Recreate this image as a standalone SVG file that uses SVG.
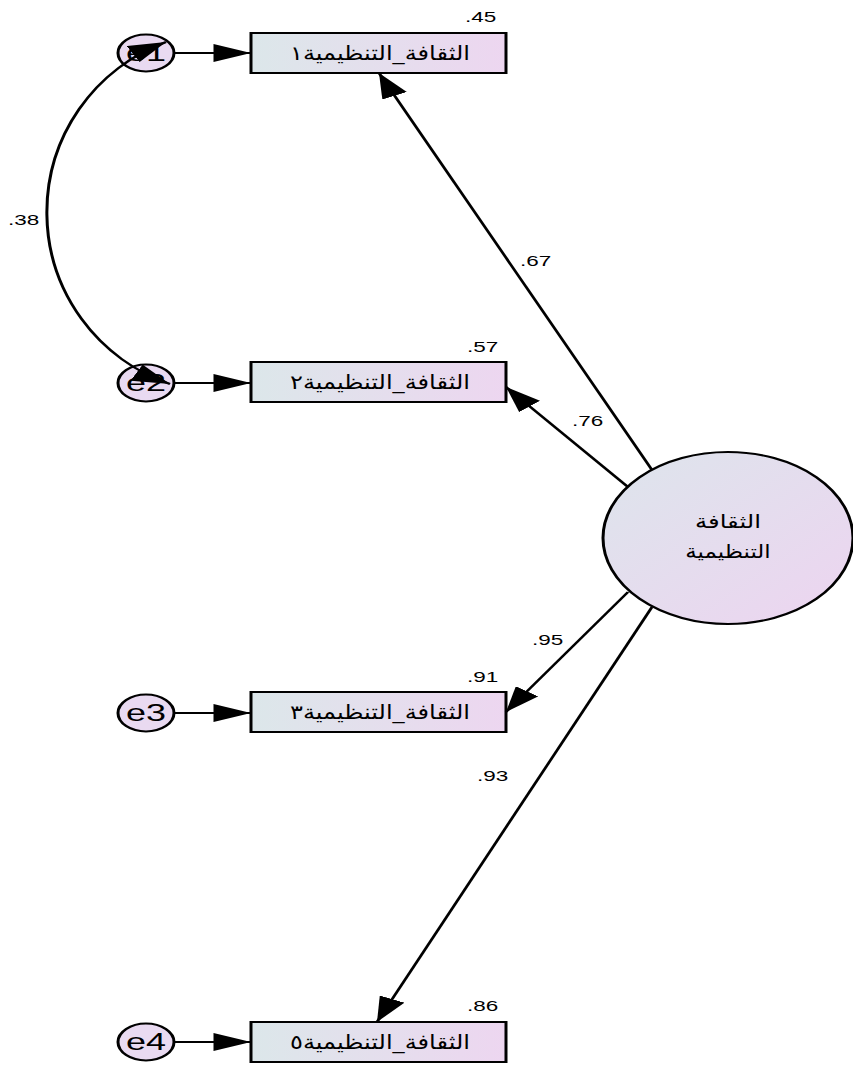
<svg xmlns="http://www.w3.org/2000/svg" width="853" height="1068" viewBox="0 0 853 1068">
<style>
.box{stroke:#000;stroke-width:2;fill:url(#gBox)}
.err{stroke:#000;stroke-width:2;fill:#e9daf1}
.lat{stroke:#000;stroke-width:2;fill:url(#gLat)}
.ln{stroke:#000;stroke-width:2;fill:none}
.num{font-family:"Liberation Sans",Arial,sans-serif;font-size:15px;fill:#000}
.el{font-family:"Liberation Sans",Arial,sans-serif;font-size:24px;fill:#000;text-anchor:middle}
.ar{font-family:"DejaVu Sans","Noto Sans",sans-serif;font-size:20px;fill:#000;text-anchor:middle}
.arl{font-family:"DejaVu Sans","Noto Sans",sans-serif;font-size:19px;fill:#000;text-anchor:middle}
</style>
<defs>
<linearGradient id="gBox" x1="0" y1="0" x2="1" y2="0">
<stop offset="0" stop-color="#dce7ea"/>
<stop offset="1" stop-color="#edd6f0"/>
</linearGradient>
<linearGradient id="gLat" x1="0" y1="0" x2="1" y2="1">
<stop offset="0" stop-color="#dde5ec"/>
<stop offset="1" stop-color="#edd4f0"/>
</linearGradient>
<marker id="ah" markerUnits="userSpaceOnUse" viewBox="0 0 25 18" refX="25" refY="9" markerWidth="25" markerHeight="18" orient="auto-start-reverse">
<path d="M0,0 L25,9 L0,18 z" fill="#000"/>
</marker>
</defs>
<rect width="853" height="1068" fill="#fff"/>
<g transform="scale(1.5,1)">
<g id="latent">
<ellipse class="lat" cx="485.33" cy="538" rx="83.33" ry="86"/>
<text class="arl" x="485.33" y="528" textLength="44" lengthAdjust="spacingAndGlyphs">الثقافة</text>
<text class="arl" x="485.33" y="558" textLength="57" lengthAdjust="spacingAndGlyphs">التنظيمية</text>
</g>
<g id="box1">
<rect class="box" x="167.33" y="33" width="170" height="40"/>
<text class="ar" x="253.3" y="60" textLength="120" lengthAdjust="spacingAndGlyphs">الثقافة_التنظيمية١</text>
</g>
<g id="box2">
<rect class="box" x="167.33" y="362" width="170" height="40"/>
<text class="ar" x="253.3" y="389" textLength="120" lengthAdjust="spacingAndGlyphs">الثقافة_التنظيمية٢</text>
</g>
<g id="box3">
<rect class="box" x="167.33" y="692" width="170" height="40"/>
<text class="ar" x="253.3" y="719" textLength="120" lengthAdjust="spacingAndGlyphs">الثقافة_التنظيمية٣</text>
</g>
<g id="box4">
<rect class="box" x="167.33" y="1022" width="170" height="40"/>
<text class="ar" x="253.3" y="1049" textLength="120" lengthAdjust="spacingAndGlyphs">الثقافة_التنظيمية٥</text>
</g>
<g id="e1">
<ellipse class="err" cx="97.33" cy="53" rx="18.67" ry="18.5"/>
<text class="el" x="97.33" y="61.5">e1</text>
</g>
<g id="e2">
<ellipse class="err" cx="97.33" cy="383" rx="18.67" ry="18.5"/>
<text class="el" x="97.33" y="391.5">e2</text>
</g>
<g id="e3">
<ellipse class="err" cx="97.33" cy="713" rx="18.67" ry="18.5"/>
<text class="el" x="97.33" y="721.5">e3</text>
</g>
<g id="e4">
<ellipse class="err" cx="97.33" cy="1042" rx="18.67" ry="18.5"/>
<text class="el" x="97.33" y="1050.5">e4</text>
</g>
<g id="connectors">
<line class="ln" x1="116" y1="53" x2="167.33" y2="53" marker-end="url(#ah)"/>
<line class="ln" x1="116" y1="383" x2="167.33" y2="383" marker-end="url(#ah)"/>
<line class="ln" x1="116" y1="713" x2="167.33" y2="713" marker-end="url(#ah)"/>
<line class="ln" x1="116" y1="1042" x2="167.33" y2="1042" marker-end="url(#ah)"/>
<line class="ln" x1="434.67" y1="470" x2="252.67" y2="73" marker-end="url(#ah)"/>
<line class="ln" x1="418.67" y1="487" x2="337.33" y2="387" marker-end="url(#ah)"/>
<line class="ln" x1="418.67" y1="592" x2="337.33" y2="712" marker-end="url(#ah)"/>
<line class="ln" x1="434.67" y1="607" x2="251.33" y2="1022" marker-end="url(#ah)"/>
<path class="ln" d="M110.67,42 A120.9 181.3 0 0 0 113.33,384" marker-start="url(#ah)" marker-end="url(#ah)"/>
</g>
<g id="labels">
<text class="num" x="310" y="22">.45</text>
<text class="num" x="311.3" y="352">.57</text>
<text class="num" x="311.3" y="682">.91</text>
<text class="num" x="311.3" y="1011">.86</text>
<text class="num" x="346.7" y="266">.67</text>
<text class="num" x="381.3" y="426">.76</text>
<text class="num" x="354.7" y="645">.95</text>
<text class="num" x="318" y="781">.93</text>
<text class="num" x="5.3" y="225">.38</text>
</g>
</g>
</svg>
